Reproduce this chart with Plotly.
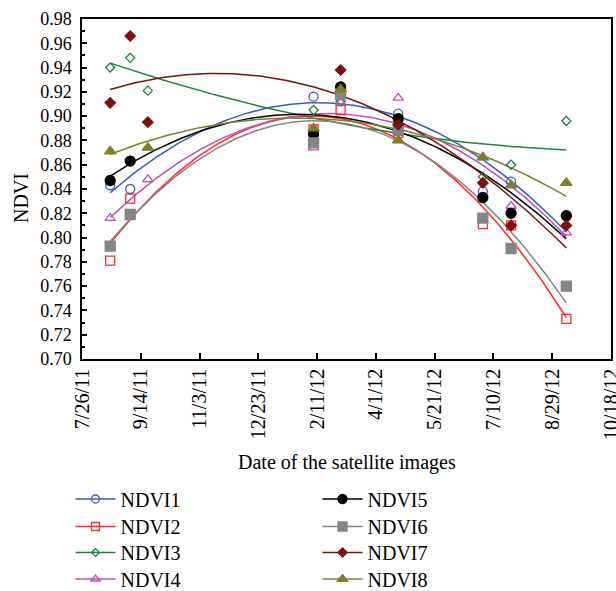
import numpy as np
import pandas as pd
import plotly.graph_objects as go

# ---------------- data ----------------
dates = ["2011-08-19", "2011-09-05", "2011-09-20", "2012-02-08", "2012-03-02",
         "2012-04-20", "2012-07-01", "2012-07-25", "2012-09-10"]
N = np.nan
ndvi1 = [0.843, 0.840, N, 0.916, 0.921, 0.902, 0.838, 0.846, 0.818]
ndvi2 = [0.781, 0.832, N, 0.889, 0.905, 0.886, 0.811, 0.810, 0.733]
ndvi3 = [0.940, 0.948, 0.921, 0.905, 0.912, N, 0.850, 0.860, 0.896]
ndvi4 = [0.816, N, 0.848, 0.874, 0.911, 0.915, 0.866, 0.826, 0.804]
ndvi5 = [0.847, 0.863, N, 0.885, 0.924, 0.898, 0.833, 0.820, 0.818]
ndvi6 = [0.793, 0.819, N, 0.878, 0.918, 0.888, 0.816, 0.791, 0.760]
ndvi7 = [0.911, 0.966, 0.895, N, 0.938, 0.893, 0.845, 0.810, 0.810]
ndvi8 = [0.871, N, 0.874, 0.890, 0.922, 0.880, 0.866, 0.843, 0.845]

series_names = ["NDVI1", "NDVI2", "NDVI3", "NDVI4", "NDVI5", "NDVI6", "NDVI7", "NDVI8"]
series_values = [ndvi1, ndvi2, ndvi3, ndvi4, ndvi5, ndvi6, ndvi7, ndvi8]

x_tick_labels = ["7/26/11", "9/14/11", "11/3/11", "12/23/11", "2/11/12",
                 "4/1/12", "5/21/12", "7/10/12", "8/29/12", "10/18/12"]

# ---------------- styles ----------------
colors = ["#3a5cc0", "#ff2a2a", "#1f8040", "#c24cb8", "#000000", "#858585", "#7d1010", "#7f7f2a"]
symbols = ["circle-open", "square-open", "diamond-open", "triangle-up-open",
           "circle", "square", "diamond", "triangle-up"]
sizes = [9, 9, 7, 9, 10, 10, 8, 10]
FONT = "Liberation Serif"

x_dates = pd.to_datetime(dates)
t_days = np.asarray((x_dates - x_dates[0]).days, dtype=float)

fig = go.Figure()

for i, (name, vals) in enumerate(zip(series_names, series_values)):
    y = np.array(vals, dtype=float)
    m = ~np.isnan(y)
    # quadratic trend line fitted to the points
    coef = np.polyfit(t_days[m], y[m], 2)
    tt = np.linspace(t_days[m].min(), t_days[m].max(), 200)
    xx = x_dates[0] + pd.to_timedelta(tt, unit="D")
    fig.add_trace(go.Scatter(x=xx, y=np.polyval(coef, tt), mode="lines",
                             line=dict(color=colors[i], width=1.5),
                             showlegend=False, hoverinfo="skip"))

for i, (name, vals) in enumerate(zip(series_names, series_values)):
    y = np.array(vals, dtype=float)
    m = ~np.isnan(y)
    fig.add_trace(go.Scatter(x=x_dates[m], y=y[m], mode="markers", name=name,
                             marker=dict(symbol=symbols[i], size=sizes[i], color=colors[i],
                                         line=dict(color=colors[i], width=1.3)),
                             showlegend=False))

# legend entries (line + marker), each in its own legend box
row_px = [499, 526.5, 552.5, 579]
col_left_px = [70.5, 317.5]
plot_left, plot_right, plot_top, plot_bottom = 82, 611, 19, 359
legend_layout = {}
for i, name in enumerate(series_names):
    key = "legend" if i == 0 else f"legend{i + 1}"
    fig.add_trace(go.Scatter(x=[None], y=[None], mode="lines+markers", name=name,
                             line=dict(color=colors[i], width=1.5),
                             marker=dict(symbol=symbols[i], size=sizes[i] - 1, color=colors[i],
                                         line=dict(color=colors[i], width=1.3)),
                             legend=key))
    lx = (col_left_px[i // 4] - plot_left) / (plot_right - plot_left)
    ly = (plot_bottom - row_px[i % 4]) / (plot_bottom - plot_top)
    legend_layout[key] = dict(x=lx, y=ly, xanchor="left", yanchor="middle",
                              itemwidth=40, font=dict(size=20),
                              bgcolor="rgba(0,0,0,0)", borderwidth=0)

tickvals = pd.to_datetime(x_tick_labels, format="%m/%d/%y")

fig.update_layout(
    width=616, height=591,
    margin=dict(l=82, r=5, t=19, b=232, autoexpand=False),
    paper_bgcolor="white", plot_bgcolor="white",
    font=dict(family=FONT, size=20, color="black"),
    xaxis=dict(range=[tickvals[0], tickvals[-1]], tickvals=tickvals, ticktext=x_tick_labels,
               tickangle=-90, ticks="inside", ticklen=6, tickwidth=1.5, tickcolor="black",
               ticklabeloverflow="allow",
               showline=True, linecolor="black", linewidth=1.5, mirror=True,
               showgrid=False, zeroline=False, tickfont=dict(size=20)),
    yaxis=dict(range=[0.70, 0.98], dtick=0.02, tick0=0.70, tickformat=".2f",
               ticks="inside", ticklen=5, tickwidth=1.5, tickcolor="black",
               ticklabelstandoff=5,
               minor=dict(dtick=0.01, ticks="inside", ticklen=3, tickcolor="black"),
               showline=True, linecolor="black", linewidth=1.5, mirror=True,
               showgrid=False, zeroline=False, tickfont=dict(size=18)),
    annotations=[
        dict(text="NDVI", textangle=-90, x=-0.1153, y=0.4735, xref="paper", yref="paper",
             xanchor="center", yanchor="middle", showarrow=False, font=dict(size=20)),
        dict(text="Date of the satellite images", x=0.5, y=-0.303, xref="paper", yref="paper",
             xanchor="center", yanchor="middle", showarrow=False, font=dict(size=20)),
    ],
    **legend_layout,
)

fig.write_html("out.html")
